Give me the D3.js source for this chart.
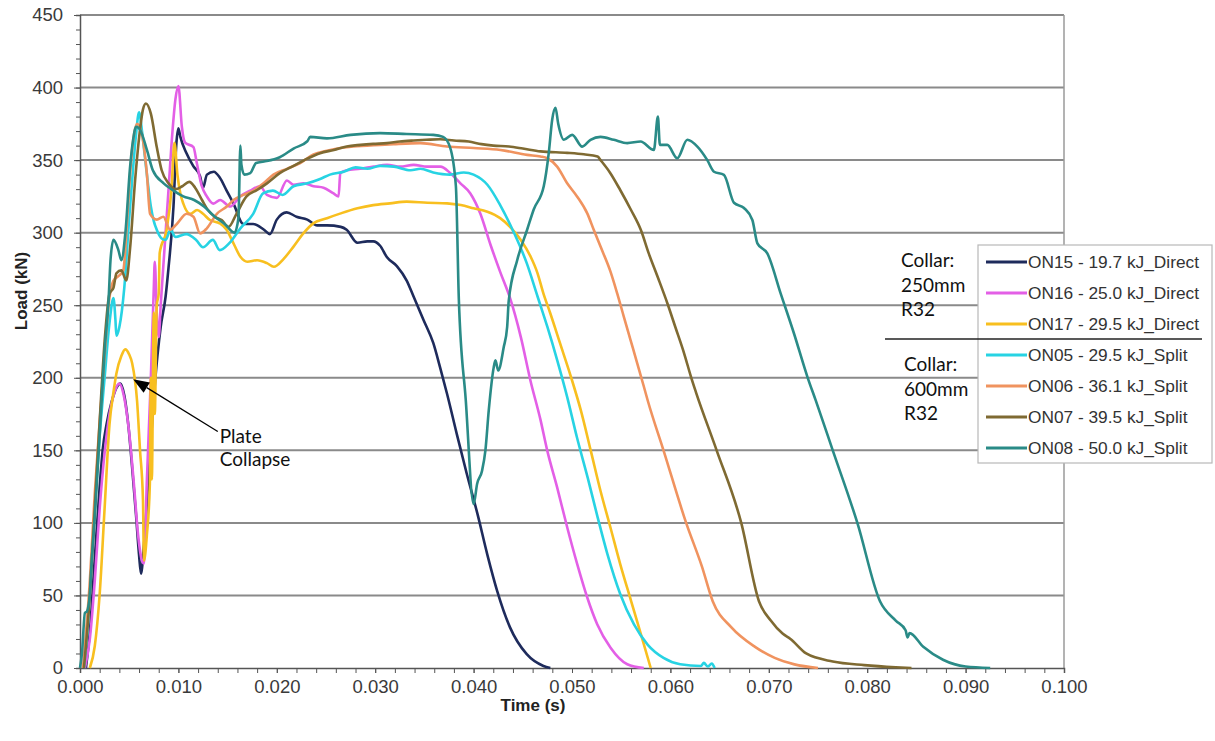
<!DOCTYPE html>
<html>
<head>
<meta charset="utf-8">
<script src="https://cdn.jsdelivr.net/npm/d3@7"></script>
<style>
  body { margin: 0; background: #fff; }
  svg { display: block; }
</style>
</head>
<body>
<svg id="chart" width="1215" height="741"></svg>
<script>
// Load (kN) against time (s) for each impact test, as [time, load] pairs
const on15 = [[0.0006,0],[0.0010,25],[0.0015,75],[0.0020,125],[0.0023,150],[0.0027,168],[0.0032,183],[0.0037,193],[0.0041,196],[0.0045,188],[0.0049,168],[0.0053,138],[0.0057,105],[0.0060,78],[0.0062,65],[0.0065,85],[0.0070,135],[0.0076,195],[0.0082,235],[0.0087,256],[0.0090,276],[0.0095,318],[0.0098,362],[0.0100,372],[0.0102,366],[0.0108,355],[0.0115,346],[0.0122,339],[0.0125,331],[0.0129,340],[0.0136,342],[0.0142,338],[0.0149,329],[0.0156,320],[0.0166,306],[0.0176,306],[0.0187,302],[0.0193,299],[0.0200,309],[0.0210,314],[0.0220,311],[0.0231,309],[0.0241,305],[0.0251,305],[0.0265,304],[0.0271,302],[0.0282,293],[0.0292,294],[0.0298,294],[0.0305,291],[0.0312,283],[0.0322,277],[0.0332,267],[0.0339,256],[0.0349,240],[0.0359,224],[0.0366,207],[0.0373,189],[0.0383,161],[0.0393,134],[0.0404,106],[0.0414,78],[0.0424,53],[0.0437,28],[0.0454,9.5],[0.0471,1.4],[0.0478,0]];

const on16 = [[0.0005,0],[0.0010,20],[0.0015,60],[0.0020,110],[0.0025,148],[0.0030,175],[0.0035,190],[0.0040,196],[0.0045,186],[0.0050,162],[0.0055,125],[0.0059,92],[0.0063,74],[0.0065,72],[0.0068,130],[0.0072,200],[0.0075,262],[0.0076,280],[0.0078,245],[0.0080,228],[0.0082,250],[0.0086,290],[0.0090,330],[0.0094,370],[0.0097,392],[0.0100,401],[0.01035,373],[0.01068,362],[0.01153,359],[0.01187,348],[0.01238,332],[0.01289,325],[0.01356,320],[0.01424,322.5],[0.01526,318],[0.01628,325],[0.0173,329],[0.01831,332],[0.01899,326],[0.02001,324],[0.02103,336],[0.0217,333],[0.02272,334],[0.02373,332],[0.02475,331],[0.02577,327],[0.02628,325],[0.02645,341],[0.02713,343],[0.02848,344],[0.02984,345.5],[0.0312,346.7],[0.03255,345.5],[0.0339,346.7],[0.03527,345.5],[0.03662,345.5],[0.03764,341],[0.03866,334],[0.03967,327],[0.04069,313],[0.0417,292],[0.0427,273],[0.0437,255],[0.0448,228],[0.04578,198],[0.0468,171],[0.04748,150],[0.04849,124.5],[0.04951,97],[0.05053,71.6],[0.05155,48.6],[0.05256,30.2],[0.05392,14],[0.05562,2.6],[0.0573,0]];

const on17 = [[0.0010,0],[0.0015,15],[0.0020,51],[0.0025,110],[0.0030,168],[0.0034,190],[0.0037,203],[0.0042,215],[0.0046,219.6],[0.0050,216],[0.0053,210],[0.0058,184],[0.0061,150],[0.0064,116],[0.0065,74],[0.0068,92],[0.0071,127],[0.0072,200],[0.0073,130],[0.0075,245],[0.0076,175],[0.0078,250],[0.0080,258],[0.0081,286],[0.0088,302],[0.0093,330],[0.0096,362],[0.0099,340],[0.0102,327],[0.0105,320],[0.0112,313],[0.0119,315.6],[0.0125,313],[0.0132,308.7],[0.0142,306.4],[0.0149,302],[0.0156,292.6],[0.0163,283.4],[0.0170,280],[0.0180,281],[0.0190,279],[0.0197,276.5],[0.0207,282],[0.0217,290.4],[0.0227,299.5],[0.0237,306.4],[0.0251,310],[0.0265,313.3],[0.0282,316.8],[0.0298,319],[0.0315,320.2],[0.0332,321.4],[0.0353,320.6],[0.0373,320.2],[0.0387,319],[0.0400,316.8],[0.0414,314.4],[0.0427,310],[0.0437,304],[0.0448,295],[0.0458,283.4],[0.0465,272],[0.0471,258],[0.0478,244.3],[0.0488,223.5],[0.0499,200.5],[0.0509,177.5],[0.0519,150],[0.0529,122],[0.0539,97],[0.0549,71.6],[0.0560,46.3],[0.0570,23.3],[0.0580,0]];

const on05 = [[0.0004,0],[0.0008,30],[0.0012,75],[0.0016,120],[0.0020,160],[0.0025,200],[0.0030,238],[0.0034,255],[0.0036,240],[0.0037,229],[0.0040,235],[0.0045,262],[0.0050,310],[0.0054,345],[0.0057,368],[0.0060,383],[0.0063,370],[0.0066,352],[0.0069,334],[0.0072,318],[0.0075,308],[0.0078,302],[0.0083,296],[0.0087,295],[0.0092,302],[0.0097,297],[0.0108,299],[0.0118,295],[0.0125,290],[0.0135,295],[0.0142,288],[0.0152,293],[0.0163,303],[0.0176,313],[0.0186,327],[0.0196,329],[0.0206,326],[0.0217,332],[0.0231,334],[0.0244,337],[0.0254,340],[0.0268,342],[0.0280,345],[0.0292,344],[0.0305,346],[0.0319,345.5],[0.0336,343],[0.0346,344],[0.0359,341.5],[0.0376,340],[0.0390,341.5],[0.0400,340],[0.0414,333],[0.0427,319],[0.0441,300],[0.0454,279],[0.0465,256],[0.0475,235],[0.0485,212],[0.0495,187],[0.0505,159],[0.0516,131],[0.0526,104],[0.0536,78.5],[0.0549,51],[0.0563,30],[0.0577,16],[0.0593,7],[0.0610,2.6],[0.0631,1.4],[0.0634,3.5],[0.0638,1],[0.0642,3],[0.0645,0]];

const on06 = [[0.0003,0],[0.0010,60],[0.0015,120],[0.0020,170],[0.0025,215],[0.0029,250],[0.0034,267],[0.0039,270],[0.0044,274],[0.0048,310],[0.0052,350],[0.0055,368],[0.0058,375],[0.00628,368],[0.00679,341],[0.00712,313],[0.0078,309],[0.00847,311],[0.00916,302],[0.00984,306],[0.01085,313],[0.01153,311],[0.0122,299.5],[0.01289,303],[0.01391,313],[0.01492,318],[0.0156,322.5],[0.01661,326],[0.01763,329],[0.01865,334],[0.01966,340],[0.02103,344],[0.02238,348],[0.02373,354],[0.0251,356.5],[0.02645,358.3],[0.0278,359.4],[0.02917,359.9],[0.03052,360.5],[0.03187,361],[0.03459,361.7],[0.0373,359.4],[0.04001,358.3],[0.04273,357],[0.04544,353.6],[0.0468,352.5],[0.04748,351.3],[0.04849,345.5],[0.04951,334],[0.05053,324.8],[0.05155,313.3],[0.05222,301.8],[0.0529,290.4],[0.05392,273],[0.0546,258],[0.05527,242],[0.05595,226],[0.05663,210],[0.0573,194],[0.05771,184],[0.0593,150],[0.0616,100],[0.0632,70],[0.0643,46],[0.0662,28],[0.0686,14.6],[0.0706,7],[0.0726,2.5],[0.0750,0]];

const on07 = [[0.0004,0],[0.0010,50],[0.0015,110],[0.0020,170],[0.0025,225],[0.0030,258],[0.0034,262],[0.0037,272],[0.0042,274],[0.0047,267],[0.0051,290],[0.0056,336],[0.0061,371],[0.0064,385],[0.0067,389],[0.0072,382],[0.0078,359],[0.0083,343],[0.0090,334],[0.0097,330],[0.0104,332],[0.0111,335],[0.0117,331],[0.0124,322.5],[0.0130,315.6],[0.0137,311],[0.0144,308.7],[0.0151,304],[0.0159,313],[0.0169,324.8],[0.0180,329.4],[0.0190,334],[0.0203,341],[0.0217,346],[0.0231,351],[0.0244,354.8],[0.0258,357],[0.0271,359.4],[0.0285,360.5],[0.0298,361.2],[0.0312,361.7],[0.0325,362.8],[0.0339,363.5],[0.0352,364],[0.0366,364.4],[0.0380,363.5],[0.0395,362.8],[0.0408,361],[0.0420,360],[0.0436,359.4],[0.0450,358],[0.0468,356],[0.0495,355],[0.0512,354],[0.0526,352.5],[0.0529,350],[0.0539,341],[0.0549,329.4],[0.0560,315.6],[0.0570,301.8],[0.0578,285.7],[0.0587,269.6],[0.0597,251.2],[0.0605,235],[0.0614,216.7],[0.0621,200.5],[0.0626,190],[0.0647,150],[0.0672,100],[0.0690,46],[0.0702,32.7],[0.0714,23.7],[0.0722,20],[0.0738,10],[0.0765,4.5],[0.0797,2],[0.0829,0.5],[0.0845,0]];

const on08 = [[0.0000,0],[0.0002,10],[0.0005,38],[0.0007,39],[0.0010,51],[0.0012,75],[0.0015,104],[0.0020,161],[0.0025,219],[0.0029,253],[0.0031,281],[0.0034,295],[0.0039,288],[0.0042,281],[0.0046,299],[0.0051,346],[0.0054,364],[0.0057,373],[0.0061,371],[0.0068,357],[0.0074,343],[0.0085,334],[0.0095,329],[0.0105,325],[0.0116,322.5],[0.0126,318],[0.0137,311],[0.0147,306],[0.0157,300],[0.0161,310],[0.0163,360],[0.0164,347],[0.0167,340],[0.0173,341],[0.0179,348],[0.0187,349],[0.0203,352],[0.0217,358],[0.0231,363],[0.0234,366],[0.0251,365],[0.0275,367.4],[0.0305,368.6],[0.0332,368],[0.0359,367.4],[0.0369,366],[0.0376,359],[0.0382,332],[0.0385,254],[0.0392,185],[0.0400,113],[0.04036,127],[0.04086,136],[0.0412,150],[0.04154,177.5],[0.04204,207],[0.04222,212],[0.0425,205],[0.04306,221],[0.04341,235],[0.04357,253],[0.04443,281],[0.04544,302],[0.04611,316],[0.04713,332],[0.04764,355],[0.04799,378],[0.04832,386],[0.0486,375],[0.04917,364],[0.05002,367.4],[0.05104,359.3],[0.05188,364],[0.0529,366],[0.05425,364],[0.05562,361.7],[0.05697,362.8],[0.05832,357],[0.05873,380],[0.05893,360.5],[0.05968,360.5],[0.0607,351.3],[0.06172,364],[0.06274,359.3],[0.06375,350],[0.06443,342],[0.06544,339.8],[0.06646,320.6],[0.06748,317],[0.06833,308.7],[0.06884,292.6],[0.06985,285.7],[0.07121,258],[0.07256,230.5],[0.07393,200.5],[0.07477,184.4],[0.0765,150],[0.0790,100],[0.0813,46],[0.0829,32.7],[0.0839,26],[0.0841,21],[0.0843,24],[0.0857,14.6],[0.0877,5.7],[0.0900,1],[0.0925,0]];

const seriesData = [on15, on16, on17, on05, on06, on07, on08];
const seriesLabels = ["ON15 - 19.7 kJ_Direct", "ON16 - 25.0 kJ_Direct", "ON17 - 29.5 kJ_Direct",
                      "ON05 - 29.5 kJ_Split", "ON06 - 36.1 kJ_Split", "ON07 - 39.5 kJ_Split", "ON08 - 50.0 kJ_Split"];
const seriesColors = ["#1e2b5c", "#e35fe6", "#f8bf1f", "#27d3e3", "#f0935f", "#7f6a32", "#2a8b87"];

const yTicks = [0, 50, 100, 150, 200, 250, 300, 350, 400, 450];
const xTicks = [0, 0.01, 0.02, 0.03, 0.04, 0.05, 0.06, 0.07, 0.08, 0.09, 0.1];

const svg = d3.select("#chart");
const W = 1215, H = 741;
const plot = { left: 80, right: 1064, top: 15, bottom: 668 };

const x = d3.scaleLinear().domain([0, 0.1]).range([plot.left, plot.right]);
const y = d3.scaleLinear().domain([0, 450]).range([plot.bottom, plot.top]);

svg.append("rect").attr("width", W).attr("height", H).attr("fill", "#fff");

// horizontal gridlines
svg.append("g")
  .selectAll("line")
  .data(yTicks.filter(d => d > 0))
  .join("line")
  .attr("x1", plot.left).attr("x2", plot.right)
  .attr("y1", d => y(d)).attr("y2", d => y(d))
  .attr("stroke", "#8a8a8a").attr("stroke-width", 2);

// right border of the plot area
svg.append("line")
  .attr("x1", plot.right).attr("x2", plot.right)
  .attr("y1", plot.top).attr("y2", plot.bottom)
  .attr("stroke", "#9a9a9a").attr("stroke-width", 1.5);

const tickFont = "'Liberation Sans', Arial, sans-serif";

// y axis: minor ticks every 10 kN, labels every 50 kN
const yMinor = d3.range(0, 451, 10);
svg.append("g")
  .attr("transform", `translate(${plot.left},0)`)
  .call(d3.axisLeft(y).tickValues(yMinor).tickSize(4).tickFormat(""))
  .call(g => g.selectAll("line").attr("stroke", "#555"))
  .call(g => g.select(".domain").attr("stroke", "#555").attr("stroke-width", 1.5));
svg.append("g")
  .attr("transform", `translate(${plot.left},0)`)
  .call(d3.axisLeft(y).tickValues(yTicks).tickSize(6).tickPadding(11).tickFormat(d3.format("d")))
  .call(g => g.select(".domain").remove())
  .call(g => g.selectAll("line").attr("stroke", "#555"))
  .call(g => g.selectAll("text").attr("font-family", tickFont).attr("font-size", 18.5).attr("fill", "#3a3a3a"));

// x axis: minor ticks every 0.002 s, labels every 0.01 s
const xMinor = d3.range(0, 0.1001, 0.002);
svg.append("g")
  .attr("transform", `translate(0,${plot.bottom})`)
  .call(d3.axisBottom(x).tickValues(xMinor).tickSize(5).tickFormat(""))
  .call(g => g.selectAll("line").attr("stroke", "#555"))
  .call(g => g.select(".domain").attr("stroke", "#555").attr("stroke-width", 1.5));
svg.append("g")
  .attr("transform", `translate(0,${plot.bottom})`)
  .call(d3.axisBottom(x).tickValues(xTicks).tickSize(5).tickPadding(7).tickFormat(d3.format(".3f")))
  .call(g => g.select(".domain").remove())
  .call(g => g.selectAll("line").attr("stroke", "#555"))
  .call(g => g.selectAll("text").attr("font-family", tickFont).attr("font-size", 18.5).attr("fill", "#3a3a3a"));

// axis titles
svg.append("text")
  .attr("x", 533).attr("y", 711)
  .attr("text-anchor", "middle")
  .attr("font-family", tickFont).attr("font-size", 17).attr("font-weight", "bold").attr("fill", "#222")
  .text("Time (s)");
svg.append("text")
  .attr("transform", `translate(27,291) rotate(-90)`)
  .attr("text-anchor", "middle")
  .attr("font-family", tickFont).attr("font-size", 17).attr("font-weight", "bold").attr("fill", "#222")
  .text("Load (kN)");

// test curves
const line = d3.line()
  .x(d => x(d[0]))
  .y(d => y(d[1]))
  .curve(d3.curveMonotoneX);

svg.append("g")
  .selectAll("path")
  .data(seriesData)
  .join("path")
  .attr("d", line)
  .attr("fill", "none")
  .attr("stroke", (d, i) => seriesColors[i])
  .attr("stroke-width", 2.6)
  .attr("stroke-linejoin", "round");

// "Plate Collapse" annotation
const tipX = x(0.0054), tipY = y(199);
const tailX = x(0.0140), tailY = y(163);
const ang = Math.atan2(tipY - tailY, tipX - tailX);
const headLen = 16, headW = 6;
const baseX = tipX - headLen * Math.cos(ang), baseY = tipY - headLen * Math.sin(ang);
svg.append("line")
  .attr("x1", tailX).attr("y1", tailY).attr("x2", baseX).attr("y2", baseY)
  .attr("stroke", "#000").attr("stroke-width", 1.3);
svg.append("path")
  .attr("d", `M${tipX},${tipY}L${baseX + headW * Math.sin(ang)},${baseY - headW * Math.cos(ang)}L${baseX - headW * Math.sin(ang)},${baseY + headW * Math.cos(ang)}Z`)
  .attr("fill", "#000");
const noteFont = "Lato, 'Open Sans', sans-serif";
svg.append("text")
  .attr("x", x(0.0142)).attr("y", y(155))
  .attr("font-family", noteFont).attr("font-size", 19).attr("fill", "#111")
  .selectAll("tspan")
  .data(["Plate", "Collapse"])
  .join("tspan")
  .attr("x", x(0.0142))
  .attr("dy", (d, i) => i === 0 ? 0 : 23)
  .text(d => d);

// collar group labels and separator
const collarGroups = [
  { x: 901, y: 267, lines: ["Collar:", "250mm", "R32"] },
  { x: 904, y: 371, lines: ["Collar:", "600mm", "R32"] }
];
collarGroups.forEach(g => {
  svg.append("text")
    .attr("font-family", noteFont).attr("font-size", 19).attr("fill", "#111")
    .selectAll("tspan")
    .data(g.lines)
    .join("tspan")
    .attr("x", g.x)
    .attr("y", (d, i) => g.y + i * 24.5)
    .text(d => d);
});

// legend
const legend = svg.append("g");
legend.append("rect")
  .attr("x", 978).attr("y", 245).attr("width", 234).attr("height", 218)
  .attr("fill", "#fff").attr("stroke", "#b8b8b8").attr("stroke-width", 1.2);
const legendRowY = i => 262 + i * 31;
const items = legend.selectAll("g.item")
  .data(seriesLabels)
  .join("g").attr("class", "item");
items.append("line")
  .attr("x1", 986).attr("x2", 1027)
  .attr("y1", (d, i) => legendRowY(i)).attr("y2", (d, i) => legendRowY(i))
  .attr("stroke", (d, i) => seriesColors[i]).attr("stroke-width", 3);
items.append("text")
  .attr("x", 1028).attr("y", (d, i) => legendRowY(i))
  .attr("dy", "0.35em")
  .attr("font-family", tickFont).attr("font-size", 17.3).attr("fill", "#333")
  .text(d => d);

svg.append("line")
  .attr("x1", 885).attr("x2", 1202).attr("y1", 339).attr("y2", 339)
  .attr("stroke", "#222").attr("stroke-width", 1.5);
</script>
</body>
</html>
